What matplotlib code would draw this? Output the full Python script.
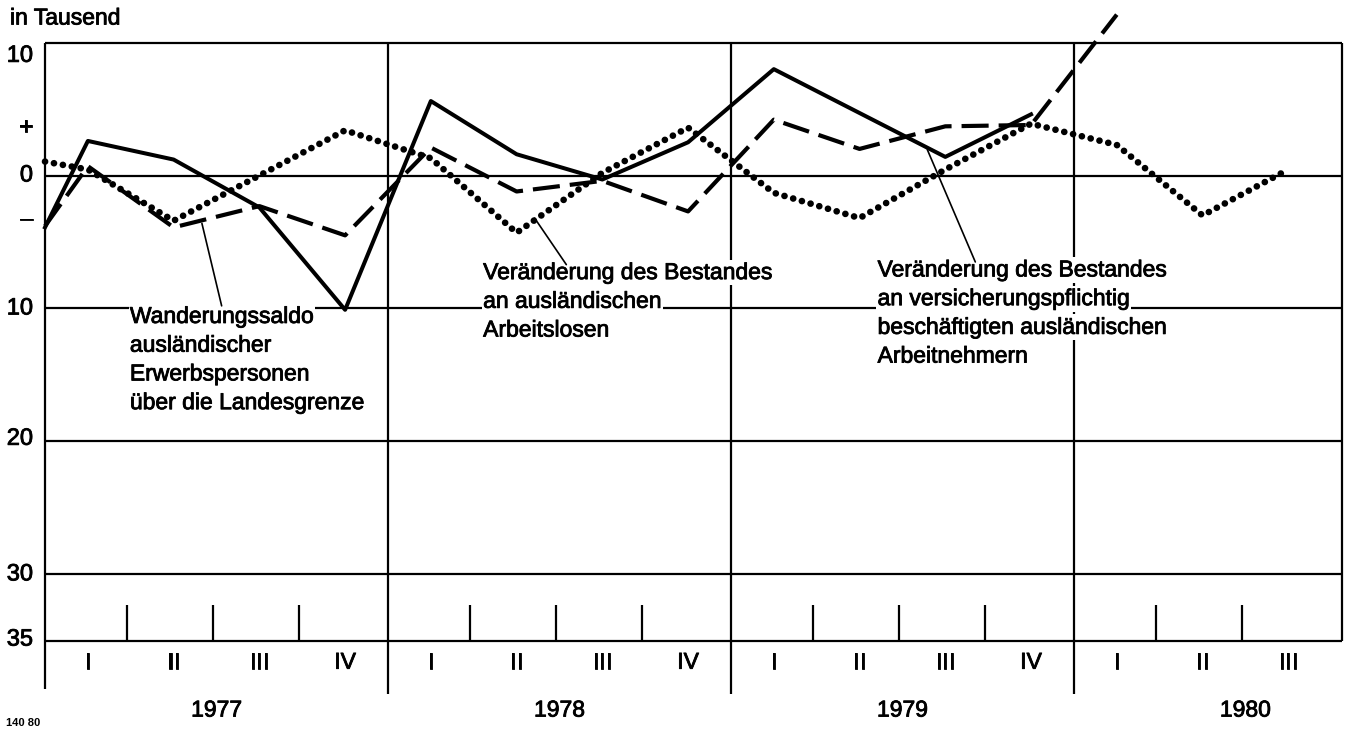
import matplotlib
matplotlib.use('Agg')
import matplotlib.pyplot as plt
import matplotlib.patheffects as pe

plt.rcParams['font.family'] = ['Liberation Sans', 'DejaVu Sans']
plt.rcParams['path.effects'] = [pe.withStroke(linewidth=0.6, foreground='black')]

# Werte in Tausend; erster Wert = linker Rand, danach Quartalsmitten ab 1977 I
beschaeftigte = [-3.9, 2.6, 1.2, -2.4, -10.1, 5.6, 1.6, -0.3, 2.5, 8.0, 4.7, 1.4, 4.6]
wanderung = [-3.8, 0.7, -3.9, -2.3, -4.5, 2.1, -1.2, -0.4, -2.7, 4.2, 2.0, 3.7, 3.8, 12.1]
arbeitslose = [1.05, 0.45, -3.4, 0.0, 3.4, 1.3, -4.3, 0.2, 3.6, -1.3, -3.2, 0.45, 3.9, 2.3, -3.0, 0.45]

quarters = ['I', 'II', 'III', 'IV'] * 3 + ['I', 'II', 'III']
years = ['1977', '1978', '1979', '1980']
ytick_text = ['10', '+', '0', '–', '10', '20', '30', '35']
ytick_pos = [9.0, 3.6, 0, -3.3, -10, -19.8, -30, -34.9]
grid_y = [10, 0, -10, -20, -30, -35]

label_wander = ['Wanderungssaldo', 'ausländischer', 'Erwerbspersonen', 'über die Landesgrenze']
label_arbeitslose = ['Veränderung des Bestandes', 'an ausländischen', 'Arbeitslosen']
label_beschaeftigte = ['Veränderung des Bestandes', 'an versicherungspflichtig',
                       'beschäftigten ausländischen', 'Arbeitnehmern']


def xs(values):
    return [0] + [i + 0.5 for i in range(len(values) - 1)]


def text_block(ax, x, y, lines, step=2.16):
    for k, line in enumerate(lines):
        ax.text(x, y - k * step, line, fontsize=16.5, ha='left', va='center', zorder=3,
                bbox=dict(facecolor='white', edgecolor='none', pad=1.0, path_effects=[]))


fig = plt.figure(figsize=(13.5, 7.34), dpi=100)
ax = fig.add_axes([0, 0, 1, 1])
ax.set_xlim(-0.525, 15.22)
ax.set_ylim(-42, 13.2)
ax.axis('off')

right = 15.125
lw_grid = 1.6
line_kw = dict(color='black', lw=lw_grid, zorder=1, path_effects=[])
ax.hlines(grid_y, 0, right, **line_kw)
ax.vlines(0, -38.6, 10, **line_kw)
ax.vlines([4, 8, 12], -39.0, 10, **line_kw)
ax.vlines(right, -35, 10, **line_kw)
ax.vlines([i - 0.04 for i in range(1, 15) if i % 4], -35, -32.3, **line_kw)

for txt, pos in zip(ytick_text, ytick_pos):
    ax.text(-0.14, pos, txt, fontsize=17, ha='right', va='center')
for i, q in enumerate(quarters):
    ax.text(i + 0.5, -36.6, q, fontsize=16.5, ha='center', va='center')
for k, yr in enumerate(years):
    ax.text(4 * k + 2, -40.2, yr, fontsize=16.5, ha='center', va='center')

ax.plot(xs(beschaeftigte), beschaeftigte, color='black', lw=2.9, zorder=4, path_effects=[])
ax.plot(xs(wanderung), wanderung, color='black', lw=3.0, ls=(0, (6.5, 2.4)),
        dash_capstyle='butt', zorder=4, path_effects=[])
ax.plot(xs(arbeitslose), arbeitslose, color='black', lw=4.8, ls=(0, (0.01, 1.35)),
        dash_capstyle='round', zorder=4, path_effects=[])

text_block(ax, 0.99, -10.6, label_wander)
text_block(ax, 5.11, -7.3, label_arbeitslose)
text_block(ax, 9.71, -7.1, label_beschaeftigte)

leader = dict(arrowstyle='-', color='black', lw=1.2, shrinkA=0, shrinkB=0, path_effects=[])
ax.annotate('', xy=(1.83, -3.6), xytext=(2.06, -9.8), arrowprops=leader, zorder=5)
ax.annotate('', xy=(5.71, -3.2), xytext=(6.08, -6.7), arrowprops=leader, zorder=5)
ax.annotate('', xy=(10.29, 1.95), xytext=(10.85, -6.5), arrowprops=leader, zorder=5)

fig.text(10 / 1350, 1 - 18 / 734, 'in Tausend', fontsize=16.5, ha='left', va='center')
fig.text(6 / 1350, 1 - 723 / 734, '140 80', fontsize=8, fontweight='bold', ha='left',
         va='center', path_effects=[])

fig.savefig('out.png', dpi=100)
